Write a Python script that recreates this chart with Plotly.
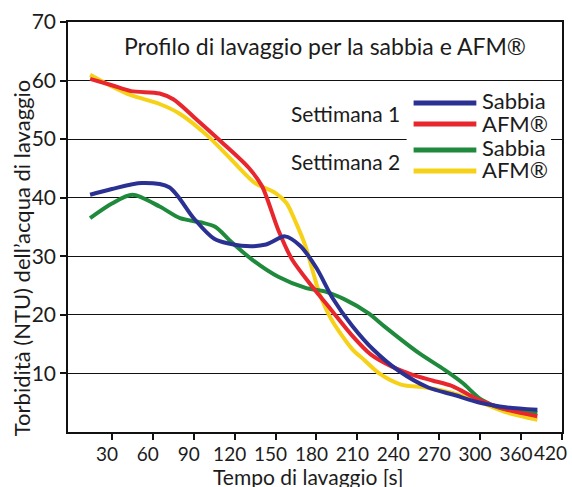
import plotly.graph_objects as go

# ---- data ----
x_tick_vals = [30, 60, 90, 120, 150, 180, 210, 240, 270, 300, 330, 360]
x_tick_text = ["30", "60", "90", "120", "150", "180", "210", "240", "270", "300", "360", "420"]
y_tick_vals = [10, 20, 30, 40, 50, 60, 70]

w1_sabbia_x = [14, 30, 52, 72, 90, 105, 125, 143, 157, 168, 180, 192, 206, 222, 240, 262, 280, 300, 320, 342]
w1_sabbia_y = [40.5, 41.5, 42.5, 41.8, 36.5, 33.0, 31.8, 32.0, 33.4, 31.8, 28.0, 22.8, 18.2, 14.0, 10.5, 7.6, 6.4, 5.0, 4.2, 3.8]

w1_afm_x = [14, 30, 44, 65, 75, 90, 110, 130, 140, 152, 162, 177, 191, 206, 220, 235, 250, 265, 280, 298, 318, 342]
w1_afm_y = [60.3, 59.2, 58.2, 57.8, 56.8, 53.8, 49.6, 45.2, 42.0, 34.5, 29.5, 24.8, 20.8, 16.5, 13.2, 11.2, 9.8, 8.8, 7.8, 5.6, 3.9, 2.7]

w2_sabbia_x = [14, 30, 45, 65, 80, 95, 106, 116, 133, 152, 172, 186, 201, 218, 230, 255, 274, 287, 301, 315, 342]
w2_sabbia_y = [36.5, 39.0, 40.5, 38.5, 36.5, 35.8, 35.0, 32.8, 29.4, 26.5, 24.6, 24.0, 22.6, 20.3, 18.0, 13.5, 10.6, 8.4, 5.5, 4.1, 3.3]

w2_afm_x = [14, 30, 44, 65, 80, 100, 118, 135, 150, 158, 165, 172, 177, 182, 191, 206, 215, 226, 242, 260, 279, 301, 320, 342]
w2_afm_y = [61.0, 59.0, 57.5, 56.0, 54.3, 50.6, 46.4, 42.5, 40.8, 39.1, 35.7, 31.7, 27.7, 23.8, 19.2, 14.2, 12.3, 10.0, 8.1, 7.6, 6.7, 5.0, 3.3, 2.1]

series_names = ["Sabbia", "AFM®", "Sabbia", "AFM®"]
series_colors = ["#2b3192", "#e8262d", "#1f8a3c", "#f7d117"]

# ---- layout constants (pixels) ----
W, H = 572, 487
ML, MR, MT, MB = 68, 8, 22, 55
PW, PH = W - ML - MR, H - MT - MB
FONT = "Lato"
TXT = "#1c1c1c"


def px(xp):
    return (xp - ML) / PW


def py(yp):
    return (H - MB - yp) / PH


fig = go.Figure()
data = [(w1_sabbia_x, w1_sabbia_y), (w1_afm_x, w1_afm_y),
        (w2_sabbia_x, w2_sabbia_y), (w2_afm_x, w2_afm_y)]
for i in [3, 2, 1, 0]:
    xs, ys = data[i]
    fig.add_trace(go.Scatter(x=xs, y=ys, mode="lines", name=series_names[i],
                             line=dict(color=series_colors[i], width=4, shape="spline", smoothing=0.8),
                             showlegend=False, hoverinfo="skip"))

shapes = []
# white box interrupting the 50 gridline behind the legend
shapes.append(dict(type="rect", xref="paper", yref="paper", x0=px(408), x1=px(553),
                   y0=py(134), y1=py(144), fillcolor="white", line=dict(width=0), layer="above"))
# legend swatches
sw_y = [103, 124, 150, 171]
for c, yy in zip(series_colors, sw_y):
    shapes.append(dict(type="line", xref="paper", yref="paper", x0=px(415), x1=px(478),
                       y0=py(yy), y1=py(yy), line=dict(color=c, width=5), layer="above"))

# the last tick label sits against the right edge: draw it as text so it is not cut
axis_text = list(x_tick_text[:-1]) + [""]

annotations = []
annotations.append(dict(text=x_tick_text[-1], xref="paper", yref="paper",
                        x=px(571), y=py(452), showarrow=False, xanchor="right", yanchor="middle",
                        font=dict(family=FONT, size=19, color=TXT)))
annotations.append(dict(text="Profilo di lavaggio per la sabbia e AFM®", xref="paper", yref="paper",
                        x=px(326), y=py(46), showarrow=False, xanchor="center", yanchor="middle",
                        font=dict(family=FONT, size=23, color=TXT)))
annotations.append(dict(text="Settimana 1", xref="paper", yref="paper", x=px(347), y=py(114),
                        showarrow=False, xanchor="center", yanchor="middle",
                        font=dict(family=FONT, size=21, color=TXT)))
annotations.append(dict(text="Settimana 2", xref="paper", yref="paper", x=px(347), y=py(161),
                        showarrow=False, xanchor="center", yanchor="middle",
                        font=dict(family=FONT, size=21, color=TXT)))
lab_y = [101, 123, 147, 169]
for name, yy in zip(series_names, lab_y):
    annotations.append(dict(text=name, xref="paper", yref="paper", x=px(482), y=py(yy),
                            showarrow=False, xanchor="left", yanchor="middle",
                            font=dict(family=FONT, size=22, color=TXT)))
annotations.append(dict(text="Torbidità (NTU) dell’acqua di lavaggio", xref="paper", yref="paper",
                        x=px(21), y=py(258), showarrow=False, textangle=-90,
                        xanchor="center", yanchor="middle",
                        font=dict(family=FONT, size=22, color=TXT)))
annotations.append(dict(text="Tempo di lavaggio [s]", xref="paper", yref="paper",
                        x=px(309), y=py(476), showarrow=False,
                        xanchor="center", yanchor="middle",
                        font=dict(family=FONT, size=21, color=TXT)))

fig.update_layout(
    width=W, height=H, autosize=False,
    margin=dict(l=ML, r=MR, t=MT, b=MB),
    paper_bgcolor="white", plot_bgcolor="white",
    shapes=shapes, annotations=annotations,
    showlegend=False,
)
fig.update_xaxes(range=[-2.2, 360.05], tickvals=x_tick_vals, ticktext=axis_text,
                 showgrid=False, zeroline=False, showline=True, mirror=True,
                 linecolor="#111", linewidth=1.5, ticks="outside", ticklen=6,
                 tickcolor="#111", tickwidth=1.5, ticklabelshift=-5,
                 ticklabelstandoff=-2,
                 tickfont=dict(family=FONT, size=19, color=TXT))
fig.update_yaxes(range=[0, 70], tickvals=y_tick_vals,
                 showgrid=True, gridcolor="#111", gridwidth=1.2, zeroline=False,
                 showline=True, mirror=True, linecolor="#111", linewidth=1.5,
                 ticks="outside", ticklen=6, tickcolor="#111", tickwidth=1.5,
                 tickfont=dict(family=FONT, size=21, color=TXT))

fig.write_html("out.html", config={"displayModeBar": False},
               post_script="document.body.style.margin='0';")
